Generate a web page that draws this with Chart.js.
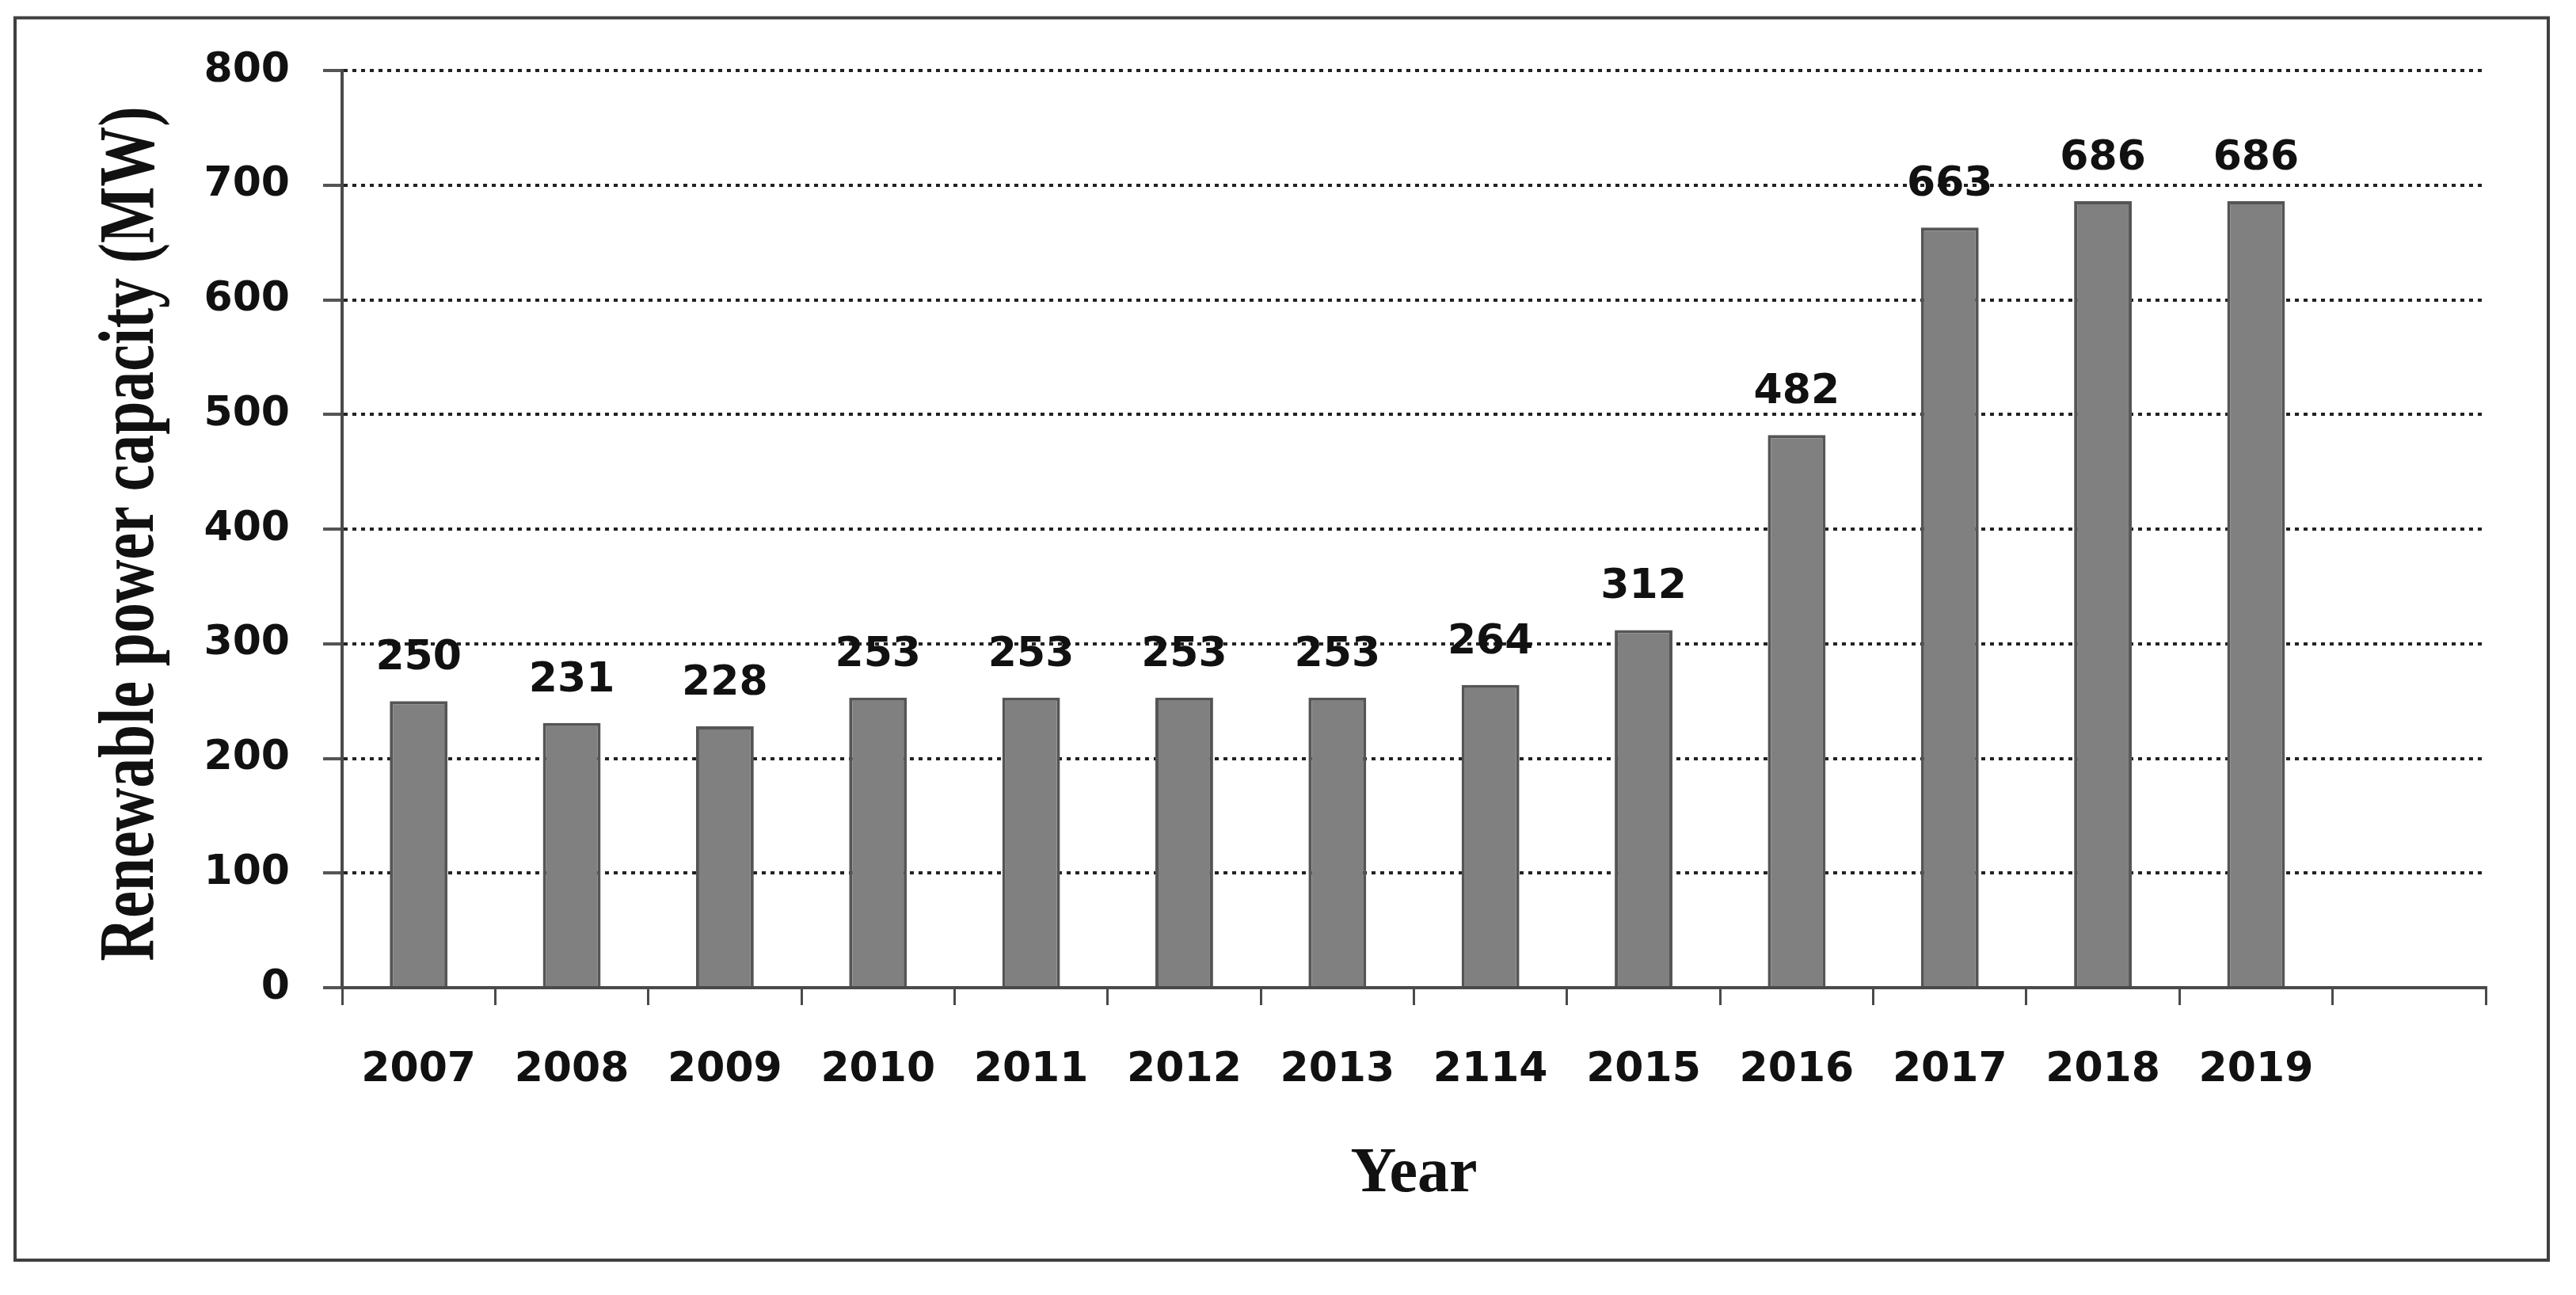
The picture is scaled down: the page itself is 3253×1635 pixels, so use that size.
<!DOCTYPE html>
<html>
<head>
<meta charset="utf-8">
<title>Renewable power capacity (MW)</title>
<script src="https://cdn.jsdelivr.net/npm/chart.js@4.4.0/dist/chart.umd.min.js"></script>
<style>
  html, body { margin: 0; padding: 0; background: #fff; }
  #wrap { width: 3253px; height: 1635px; }
</style>
</head>
<body>
<div id="wrap"><canvas id="chart" width="3253" height="1635"></canvas></div>
<script>
// --- DATA ---
const years = ['2007', '2008', '2009', '2010', '2011', '2012', '2013', '2114', '2015', '2016', '2017', '2018', '2019'];
const capacityMW = [250, 231, 228, 253, 253, 253, 253, 264, 312, 482, 663, 686, 686];
const yTicks = [0, 100, 200, 300, 400, 500, 600, 700, 800];
const yTitle = 'Renewable power capacity (MW)';
const xTitle = 'Year';

// the original axis keeps one empty slot after the last year
const xLabels = years.concat(['']);

const numFont = '"DejaVu Sans", Verdana, sans-serif';
const serifFont = '"Liberation Serif", "Times New Roman", serif';
const ink = '#111';
const axisGrey = '#4a4a4a';

// --- PLUGINS ---
// white page + the thin frame round the whole figure
const framePlugin = {
  id: 'frame',
  beforeDraw(chart) {
    const ctx = chart.ctx;
    ctx.save();
    ctx.fillStyle = '#fff';
    ctx.fillRect(0, 0, chart.width, chart.height);
    ctx.strokeStyle = '#404040';
    ctx.lineWidth = 4;
    ctx.strokeRect(19, 22.5, 3199, 1568.5);
    ctx.restore();
  }
};

// value above each bar
const valueLabels = {
  id: 'valueLabels',
  afterDatasetsDraw(chart) {
    const ctx = chart.ctx;
    const meta = chart.getDatasetMeta(0);
    ctx.save();
    ctx.font = 'bold 52px ' + numFont;
    ctx.fillStyle = ink;
    ctx.textAlign = 'center';
    ctx.textBaseline = 'alphabetic';
    meta.data.forEach((bar, i) => {
      const v = chart.data.datasets[0].data[i];
      if (v == null) return;
      ctx.fillText(String(v), bar.x, bar.y - 40);
    });
    ctx.restore();
  }
};

// y title is set in a narrow bold serif in the original
const yTitlePlugin = {
  id: 'yTitle',
  afterDraw(chart) {
    const ctx = chart.ctx;
    const y = chart.scales.y;
    ctx.save();
    ctx.font = 'bold 100px ' + serifFont;
    const w = ctx.measureText(yTitle).width;
    ctx.translate(193, (y.top + y.bottom) / 2 + 6);
    ctx.rotate(-Math.PI / 2);
    ctx.scale(1079 / w, 1);
    ctx.textAlign = 'center';
    ctx.textBaseline = 'alphabetic';
    ctx.fillStyle = ink;
    ctx.fillText(yTitle, 0, 0);
    ctx.restore();
  }
};

// --- CHART ---
new Chart(document.getElementById('chart'), {
  type: 'bar',
  data: {
    labels: xLabels,
    datasets: [{
      data: capacityMW,
      backgroundColor: '#808080',
      borderColor: '#555',
      borderWidth: 4,
      barPercentage: 0.377,
      categoryPercentage: 1
    }]
  },
  options: {
    responsive: false,
    devicePixelRatio: 1,
    animation: false,
    layout: { padding: { left: 25, top: 89, right: 114, bottom: 55 } },
    plugins: {
      legend: { display: false },
      tooltip: { enabled: false }
    },
    scales: {
      x: {
        offset: true,
        grid: {
          offset: true,
          drawOnChartArea: false,
          drawTicks: true,
          tickLength: 22,
          color: axisGrey,
          lineWidth: 3
        },
        border: { display: true, color: axisGrey, width: 4 },
        ticks: {
          color: ink,
          padding: 51,
          maxRotation: 0,
          autoSkip: false,
          font: { family: numFont, size: 52, weight: 'bold' }
        },
        title: {
          display: true,
          text: xTitle,
          color: ink,
          padding: { top: 0, bottom: 49 },
          font: { family: serifFont, size: 80, weight: 'bold' }
        },
        afterFit(s) { s.height = 333; }
      },
      y: {
        min: yTicks[0],
        max: yTicks[yTicks.length - 1],
        afterBuildTicks(s) { s.ticks = yTicks.map(v => ({ value: v })); },
        grid: {
          color: '#222',
          lineWidth: 4,
          drawTicks: true,
          tickLength: 24,
          tickColor: '#555',
          tickWidth: 4,
          tickBorderDash: []
        },
        border: { display: true, color: axisGrey, width: 4, dash: [5, 6] },
        ticks: {
          color: ink,
          padding: 42,
          font: { family: numFont, size: 52, weight: 'bold' }
        },
        afterFit(s) { s.width = 407; }
      }
    }
  },
  plugins: [framePlugin, valueLabels, yTitlePlugin]
});
</script>
</body>
</html>
